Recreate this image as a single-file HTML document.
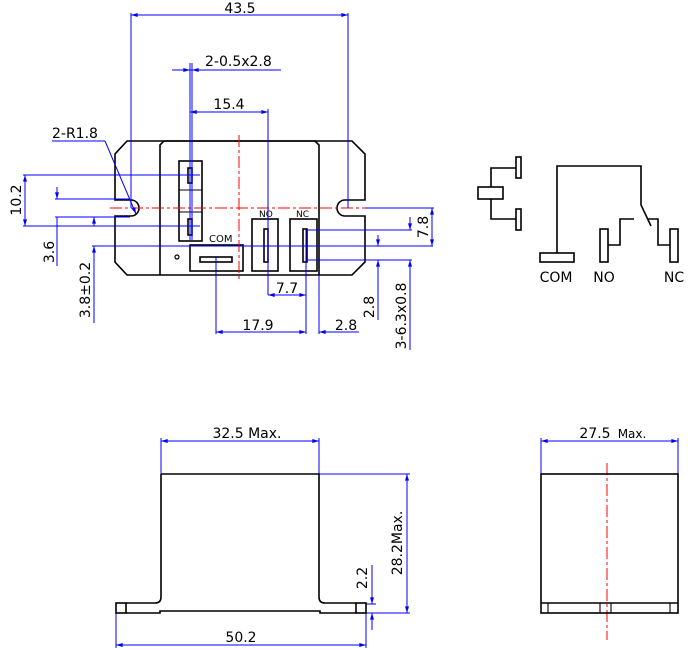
<!DOCTYPE html>
<html><head><meta charset="utf-8"><style>
html,body{margin:0;padding:0;background:#fff}
svg{display:block}
text{font-family:"DejaVu Sans","Liberation Sans",sans-serif;fill:#000}
</style></head><body>
<svg width="700" height="650" viewBox="0 0 700 650" xmlns="http://www.w3.org/2000/svg">
<defs>
<marker id="a" viewBox="0 0 10 6" refX="10" refY="3" markerWidth="7" markerHeight="4" orient="auto-start-reverse"><path d="M0,0L10,3L0,6z" fill="#00f"/></marker>
</defs>
<g fill="none" stroke="#000" stroke-width="1.6">
<path d="M127,141 L352,141 L365,154 L365,200 L345,200 A8,8 0 0 0 345,216 L365,216 L365,262 L352,275 L127,275 L115,262 L115,216 L131,216 A8,8 0 0 0 131,200 L115,200 L115,154 Z"/>
<path d="M164,141 L315,141 L319,145 L319,275 M160,275 L160,145 L164,141"/>
<rect x="179" y="161" width="23" height="80"/>
<line x1="179" y1="190" x2="202" y2="190" stroke-width="1"/>
<line x1="179" y1="212" x2="202" y2="212" stroke-width="1"/>
<rect x="188" y="168" width="4" height="15"/>
<rect x="188" y="219" width="4" height="16"/>
<rect x="190" y="245" width="53" height="26"/>
<rect x="200" y="257" width="32" height="5"/>
<circle cx="177" cy="257" r="2" stroke-width="1.2"/>
<rect x="252" y="219" width="26" height="52"/>
<rect x="264" y="229" width="4" height="33"/>
<rect x="290" y="219" width="27" height="52"/>
<rect x="303" y="229" width="4" height="33"/>
</g>
<g font-size="9"><text x="259" y="217">NO</text><text x="296" y="217">NC</text><text x="209" y="242" font-size="10">COM</text></g>
<g stroke="#f00" stroke-width="1" stroke-dasharray="12,3,3,3" fill="none">
<line x1="110" y1="208" x2="365" y2="208"/>
<line x1="239" y1="135" x2="239" y2="281"/>
<line x1="607" y1="463" x2="607" y2="640"/>
</g>
<g stroke="#00f" stroke-width="1" fill="none">
<line x1="131" y1="13" x2="131" y2="208"/><line x1="348" y1="13" x2="348" y2="208"/>
<line x1="131" y1="15" x2="348" y2="15" marker-start="url(#a)" marker-end="url(#a)"/>
<line x1="172" y1="70" x2="281" y2="70"/>
<line x1="190" y1="63" x2="190" y2="240"/><line x1="192" y1="63" x2="192" y2="240"/>
<line x1="180" y1="70" x2="190" y2="70" marker-end="url(#a)"/><line x1="202" y1="70" x2="192" y2="70" marker-end="url(#a)"/>
<line x1="190" y1="112" x2="268" y2="112" marker-start="url(#a)" marker-end="url(#a)"/>
<line x1="268" y1="109" x2="268" y2="295"/>
<line x1="52" y1="141" x2="105" y2="141"/><line x1="105" y1="141" x2="136" y2="214" marker-end="url(#a)"/>
<line x1="23" y1="175" x2="200" y2="175"/><line x1="23" y1="226" x2="200" y2="226"/>
<line x1="25" y1="175" x2="25" y2="226" marker-start="url(#a)" marker-end="url(#a)"/>
<line x1="55" y1="199" x2="130" y2="199"/><line x1="55" y1="217" x2="130" y2="217"/>
<line x1="57" y1="187" x2="57" y2="199" marker-end="url(#a)"/><line x1="57" y1="266" x2="57" y2="217"/>
<line x1="94" y1="226" x2="94" y2="217" marker-end="url(#a)"/>
<line x1="92" y1="246" x2="433" y2="246"/>
<line x1="94" y1="323" x2="94" y2="246" marker-end="url(#a)"/>
<line x1="365" y1="208" x2="434" y2="208"/>
<line x1="432" y1="208" x2="432" y2="246" marker-start="url(#a)" marker-end="url(#a)"/>
<line x1="307" y1="230" x2="412" y2="230"/>
<line x1="410" y1="217" x2="410" y2="230" marker-end="url(#a)"/>
<line x1="378" y1="235" x2="378" y2="246" marker-end="url(#a)"/>
<line x1="307" y1="260" x2="412" y2="260"/>
<line x1="378" y1="320" x2="378" y2="260" marker-end="url(#a)"/>
<line x1="410" y1="350" x2="410" y2="260" marker-end="url(#a)"/>
<line x1="306" y1="229" x2="306" y2="334"/>
<line x1="268" y1="295" x2="306" y2="295" marker-start="url(#a)" marker-end="url(#a)"/>
<line x1="216" y1="257" x2="216" y2="334"/>
<line x1="216" y1="332" x2="306" y2="332" marker-start="url(#a)" marker-end="url(#a)"/>
<line x1="319" y1="275" x2="319" y2="334"/>
<line x1="319" y1="332" x2="359" y2="332" marker-start="url(#a)"/>
<line x1="161" y1="438" x2="161" y2="474"/><line x1="319" y1="438" x2="319" y2="474"/>
<line x1="161" y1="441" x2="319" y2="441" marker-start="url(#a)" marker-end="url(#a)"/>
<line x1="319" y1="474" x2="410" y2="474"/><line x1="366" y1="613" x2="410" y2="613"/>
<line x1="407" y1="474" x2="407" y2="613" marker-start="url(#a)" marker-end="url(#a)"/>
<line x1="366" y1="604" x2="376" y2="604"/>
<line x1="372" y1="565" x2="372" y2="604" marker-end="url(#a)"/>
<line x1="372" y1="630" x2="372" y2="613" marker-end="url(#a)"/>
<line x1="116" y1="613" x2="116" y2="648"/><line x1="366" y1="613" x2="366" y2="648"/>
<line x1="116" y1="645" x2="366" y2="645" marker-start="url(#a)" marker-end="url(#a)"/>
<line x1="541" y1="438" x2="541" y2="474"/><line x1="678" y1="438" x2="678" y2="474"/>
<line x1="541" y1="441" x2="678" y2="441" marker-start="url(#a)" marker-end="url(#a)"/>
</g>
<g font-size="14">
<text x="240" y="13" text-anchor="middle">43.5</text>
<text x="205" y="66">2-0.5x2.8</text>
<text x="229" y="109" text-anchor="middle">15.4</text>
<text x="52" y="138">2-R1.8</text>
<text transform="translate(21,200) rotate(-90)" text-anchor="middle">10.2</text>
<text transform="translate(54,252) rotate(-90)" text-anchor="middle">3.6</text>
<text transform="translate(90,290) rotate(-90)" text-anchor="middle">3.8±0.2</text>
<text transform="translate(428,227) rotate(-90)" text-anchor="middle">7.8</text>
<text transform="translate(374,307) rotate(-90)" text-anchor="middle">2.8</text>
<text transform="translate(406,316) rotate(-90)" text-anchor="middle">3-6.3x0.8</text>
<text x="287" y="293" text-anchor="middle">7.7</text>
<text x="258" y="330" text-anchor="middle">17.9</text>
<text x="346" y="330" text-anchor="middle">2.8</text>
<text x="247" y="438" text-anchor="middle">32.5 Max.</text>
<text transform="translate(402,543) rotate(-90)" text-anchor="middle">28.2Max.</text>
<text transform="translate(367,578) rotate(-90)" text-anchor="middle">2.2</text>
<text x="241" y="642" text-anchor="middle">50.2</text>
<text x="595" y="438" text-anchor="middle">27.5</text>
<text x="632" y="438" text-anchor="middle" font-size="12">Max.</text>
<text x="556" y="282" text-anchor="middle">COM</text>
<text x="604" y="282" text-anchor="middle">NO</text>
<text x="674" y="282" text-anchor="middle">NC</text>
</g>
<g fill="none" stroke="#000" stroke-width="1.6">
<path d="M161,474 L319,474 L319,597 Q319,603 325,603 L356,603 M161,474 L161,597 Q161,603 155,603 L126,603"/>
<rect x="116" y="603" width="10" height="10"/><rect x="356" y="603" width="10" height="10"/>
<path d="M126,613 L160,613 L160,611 L320,611 L320,613 L356,613"/>
<rect x="541" y="474" width="137" height="139"/>
<line x1="541" y1="603" x2="678" y2="603"/>
<g stroke-width="1.1"><line x1="548" y1="603" x2="548" y2="613"/><line x1="670" y1="603" x2="670" y2="613"/><line x1="600" y1="603" x2="600" y2="613"/><line x1="611" y1="603" x2="611" y2="613"/></g>
<rect x="478" y="187" width="25" height="12"/>
<path d="M491,187 L491,168 L516,168 M491,199 L491,219 L516,219"/>
<rect x="516" y="157" width="5" height="21"/><rect x="516" y="209" width="5" height="21"/>
<path d="M557,253 L557,166 L641,166 L641,205 L651,226"/>
<rect x="540" y="253" width="34" height="9"/>
<rect x="600" y="229" width="8" height="33"/>
<path d="M608,245 L620,245 L620,219 L634,219"/>
<rect x="670" y="229" width="8" height="33"/>
<path d="M670,245 L658,245 L658,219 L648,219"/>
</g>
</svg>
</body></html>
